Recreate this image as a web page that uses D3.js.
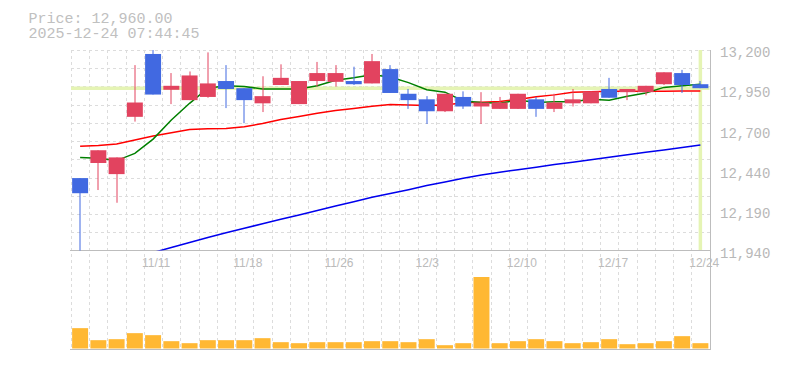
<!DOCTYPE html>
<html lang="en">
  <head>
    <meta charset="UTF-8" />
    <script src="https://d3js.org/d3.v7.min.js"></script>
    <title>Price chart</title>
    <style>
      body { margin: 0; background: #fff; }
    </style>
  </head>
  <body>
    <div id="chart"></div>
    <script>
      // trading days shown on the chart
      var dates = ["11/5","11/6","11/7","11/10","11/11","11/12","11/13","11/14","11/17","11/18",
                   "11/19","11/20","11/21","11/25","11/26","11/27","11/28","12/1","12/2","12/3",
                   "12/4","12/5","12/8","12/9","12/10","12/11","12/12","12/15","12/16","12/17",
                   "12/18","12/19","12/22","12/23","12/24"]
      var xLabels = ["11/11","11/18","11/26","12/3","12/10","12/17","12/24"]

      // daily prices
      var open  = [12395,12490,12420,12780,13175,12950,12885,12905,13005,12960,
                   12865,12980,12860,13005,13000,13005,12990,13080,12925,12890,
                   12815,12905,12845,12830,12830,12890,12830,12865,12865,12955,
                   12935,12935,12985,13055,12985]
      var high  = [12395,12570,12525,13105,13200,13055,13065,13185,13105,12960,
                   13035,13110,13005,13125,13105,13095,13175,13105,12955,12910,
                   12925,12940,12935,12905,12925,12905,12925,12955,12940,13025,
                   12955,12975,13060,13075,13005]
      var low   = [11940,12320,12240,12750,12920,12860,12885,12900,12835,12740,
                   12810,12980,12860,12970,12970,12980,12990,12930,12830,12735,
                   12810,12830,12735,12830,12830,12780,12810,12845,12865,12900,
                   12885,12915,12980,12930,12960]
      var close = [12300,12570,12525,12870,12920,12975,13040,12990,12955,12885,
                   12910,13025,13005,13055,13055,12985,13130,12930,12885,12815,
                   12925,12845,12870,12870,12925,12830,12870,12890,12940,12900,
                   12955,12975,13060,12980,12960]
      var volume = [20300,8300,9300,15300,13300,7300,5300,8300,8300,8300,
                    10300,6300,5300,6300,6300,6300,7300,7300,6300,9300,
                    3300,5300,71300,5300,7300,9300,7300,5300,6300,9300,
                    4300,5300,7300,12300,5300]

      // moving averages
      var ma5  = [12525,12520,12505,12550,12640,12760,12865,12960,12975,12970,
                  12955,12955,12955,12975,13010,13025,13045,13030,12995,12950,
                  12935,12880,12870,12865,12885,12870,12875,12875,12890,12885,
                  12910,12930,12965,12975,12985]
      var ma25 = [12595,12600,12610,12635,12660,12680,12700,12705,12707,12717,
                  12738,12763,12782,12803,12820,12833,12847,12858,12854,12852,
                  12855,12868,12872,12877,12889,12906,12918,12935,12937,12940,
                  12940,12940,12940,12942,12942]
      var ma75 = [null,null,null,null,11927,11959,11990,12022,12051,12080,
                  12108,12136,12163,12191,12220,12247,12274,12298,12322,12348,
                  12370,12394,12414,12432,12448,12463,12480,12495,12510,12526,
                  12541,12557,12572,12587,12603]

      var yTicks = [11940, 12192, 12444, 12696, 12948, 13200]
      var yTickLabels = ["11,940","12,190","12,440","12,700","12,950","13,200"]
      var lastPrice = 12960

      var width = 785, height = 370
      var plotL = 71, plotR = 709.5, plotT = 50, plotB = 250.5, volB = 348.5

      var svg = d3.select("#chart").append("svg")
        .attr("width", width)
        .attr("height", height)

      var x = d3.scaleBand().domain(dates).range([plotL, plotR])
      var bw = x.bandwidth()
      var cw = bw * 0.875
      var cx = function(d) { return x(d) + bw / 2 }

      var y = d3.scaleLinear().domain([11940, 13200]).range([plotB, plotT])
      var yv = d3.scaleLinear().domain([0, d3.max(volume)]).range([volB, 277])

      svg.append("defs").append("clipPath").attr("id", "clip")
        .append("rect").attr("x", plotL - 1).attr("y", plotT).attr("width", plotR - plotL + 2).attr("height", plotB - plotT)

      // grid
      var grid = svg.append("g").attr("stroke", "#dcdcdc").attr("stroke-dasharray", "3,3").attr("shape-rendering", "crispEdges")
      grid.selectAll(".vg").data(dates).enter().append("line")
        .attr("x1", function(d) { return Math.round(x(d)) + 0.5 })
        .attr("x2", function(d) { return Math.round(x(d)) + 0.5 })
        .attr("y1", plotT).attr("y2", volB)
      grid.selectAll(".hg").data(d3.range(11)).enter().append("line")
        .attr("x1", plotL).attr("x2", plotR)
        .attr("y1", function(k) { return Math.round(plotT + k * bw) + 0.5 })
        .attr("y2", function(k) { return Math.round(plotT + k * bw) + 0.5 })

      // current price cursor
      svg.append("line")
        .attr("x1", plotL).attr("x2", plotR)
        .attr("y1", y(lastPrice)).attr("y2", y(lastPrice))
        .attr("stroke", "#e5f4b4").attr("stroke-width", 3.5)
      svg.append("line")
        .attr("x1", cx(dates[dates.length - 1])).attr("x2", cx(dates[dates.length - 1]))
        .attr("y1", plotT).attr("y2", plotB)
        .attr("stroke", "#e5f4b4").attr("stroke-width", 3.5)

      // borders
      var border = svg.append("g").attr("stroke", "#bdbdbd").attr("shape-rendering", "crispEdges")
      border.append("line").attr("x1", plotL - 1).attr("x2", plotR + 1).attr("y1", 250.5).attr("y2", 250.5)
      border.append("line").attr("x1", plotL - 1).attr("x2", plotR + 1).attr("y1", 349.5).attr("y2", 349.5)
      border.append("line").attr("x1", 710.5).attr("x2", 710.5).attr("y1", plotT).attr("y2", 349.5)

      // moving averages
      var plot = svg.append("g").attr("clip-path", "url(#clip)")
      function maLine(vals, color) {
        var line = d3.line()
          .defined(function(d) { return d != null })
          .x(function(d, i) { return cx(dates[i]) })
          .y(function(d) { return y(d) })
        plot.append("path").datum(vals)
          .attr("d", line)
          .attr("fill", "none")
          .attr("stroke", color)
          .attr("stroke-width", 1.5)
      }
      maLine(ma75, "#0000ee")
      maLine(ma25, "#ff0000")
      maLine(ma5, "#008000")

      // candles
      var up = "#e2435f", down = "#4169e1"
      var candles = svg.selectAll(".candle").data(dates).enter().append("g")
      candles.append("line")
        .attr("x1", function(d) { return Math.round(cx(d)) })
        .attr("x2", function(d) { return Math.round(cx(d)) })
        .attr("y1", function(d, i) { return y(high[i]) })
        .attr("y2", function(d, i) { return y(low[i]) })
        .attr("stroke", function(d, i) { return close[i] >= open[i] ? up : down })
        .attr("stroke-width", 1)
      candles.append("rect")
        .attr("x", function(d) { return x(d) + (bw - cw) / 2 })
        .attr("width", cw)
        .attr("y", function(d, i) { return y(Math.max(open[i], close[i])) })
        .attr("height", function(d, i) { return Math.max(1, Math.abs(y(open[i]) - y(close[i]))) })
        .attr("fill", function(d, i) { return close[i] >= open[i] ? up : down })

      // volume
      svg.selectAll(".vol").data(dates).enter().append("rect")
        .attr("x", function(d) { return x(d) + (bw - cw) / 2 })
        .attr("width", cw)
        .attr("y", function(d, i) { return yv(volume[i]) })
        .attr("height", function(d, i) { return volB - yv(volume[i]) })
        .attr("fill", "#ffb833")

      // axis labels
      svg.selectAll(".yl").data(yTicks).enter().append("text")
        .attr("x", 720)
        .attr("y", function(d) { return y(d) + 7.3 })
        .text(function(d, i) { return yTickLabels[i] })
        .style("font-family", "'Liberation Mono', monospace")
        .style("font-size", "14px")
        .attr("fill", "#b8b8b8")

      svg.selectAll(".xl").data(xLabels).enter().append("text")
        .attr("x", function(d) { return x(d) - 2 })
        .attr("y", 266.5)
        .text(function(d) { return d })
        .style("font-family", "'Liberation Sans', sans-serif")
        .style("font-size", "12px")
        .attr("fill", "#bbbbbb")

      // header
      var header = ["Price: 12,960.00", "2025-12-24 07:44:45"]
      svg.selectAll(".hd").data(header).enter().append("text")
        .attr("x", 28.5)
        .attr("y", function(d, i) { return 22.7 + i * 15 })
        .text(function(d) { return d })
        .style("font-family", "'Liberation Mono', monospace")
        .style("font-size", "15px")
        .attr("fill", "#c0c0c0")
    </script>
  </body>
</html>
